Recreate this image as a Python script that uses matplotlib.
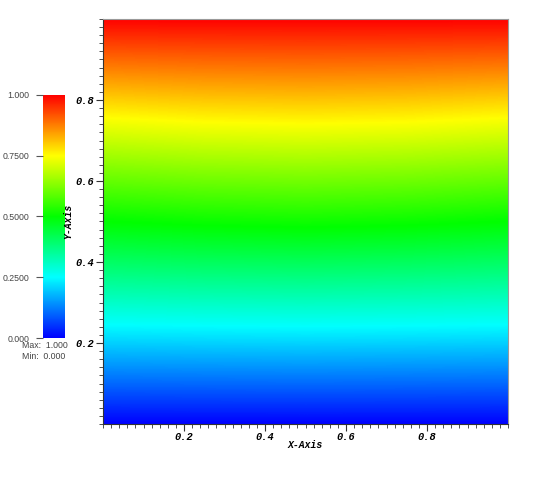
import numpy as np
import matplotlib
matplotlib.use("Agg")
import matplotlib.pyplot as plt
from matplotlib.colors import LinearSegmentedColormap, Normalize
from matplotlib.cm import ScalarMappable
from matplotlib.ticker import MultipleLocator

# ---- data ----
x_samples = [0.0, 0.25, 0.5, 0.75, 1.0]
y_samples = [0.0, 0.25, 0.5, 0.75, 1.0]
field_y0 = [0.000, 0.000, 0.000, 0.000, 0.000]
field_y025 = [0.255, 0.258, 0.260, 0.258, 0.255]
field_y05 = [0.500, 0.510, 0.515, 0.510, 0.500]
field_y075 = [0.744, 0.755, 0.759, 0.755, 0.744]
field_y1 = [1.000, 1.000, 1.000, 1.000, 1.000]
x_ticks = [0.2, 0.4, 0.6, 0.8]
y_ticks = [0.2, 0.4, 0.6, 0.8]
cbar_ticks = [0.0, 0.25, 0.5, 0.75, 1.0]
cbar_labels = ["0.000", "0.2500", "0.5000", "0.7500", "1.000"]
vmin, vmax = 0.0, 1.0

field = np.array([field_y0, field_y025, field_y05, field_y075, field_y1])

cmap = LinearSegmentedColormap.from_list(
    "visit_hot",
    [(0.0, (0, 0, 1)), (0.25, (0, 1, 1)), (0.5, (0, 1, 0)),
     (0.75, (1, 1, 0)), (1.0, (1, 0, 0))], N=512)
norm = Normalize(vmin, vmax)

W, H = 538, 494
fig = plt.figure(figsize=(W / 100, H / 100), dpi=100)

def px(l, t, r, b):
    return [l / W, 1 - b / H, (r - l) / W, (b - t) / H]

ax = fig.add_axes(px(103, 19, 508, 424))
dx = (x_samples[1] - x_samples[0]) / 2
dy = (y_samples[1] - y_samples[0]) / 2
ax.imshow(field, origin="lower", cmap=cmap, norm=norm,
          extent=[x_samples[0] - dx, x_samples[-1] + dx,
                  y_samples[0] - dy, y_samples[-1] + dy],
          interpolation="bilinear", interpolation_stage="data", aspect="auto")
ax.set_xlim(0, 1)
ax.set_ylim(0, 1)

tickfont = dict(family="Liberation Mono", weight="bold", style="italic", size=7.5)
ax.set_xticks(x_ticks)
ax.set_yticks(y_ticks)
ax.set_xticklabels([f"{v:.1f}" for v in x_ticks], **tickfont)
ax.set_yticklabels([f"{v:.1f}" for v in y_ticks], **tickfont)
ax.xaxis.set_minor_locator(MultipleLocator(0.02))
ax.yaxis.set_minor_locator(MultipleLocator(0.02))
ax.tick_params(which="major", direction="out", length=5, width=0.8,
               color="#333333")
ax.tick_params(axis="x", which="major", pad=1)
ax.tick_params(axis="y", which="major", pad=1.5)
ax.tick_params(which="minor", direction="out", length=3, width=0.6,
               color="#333333")
for s in ("left", "bottom"):
    ax.spines[s].set_color("#333333")
    ax.spines[s].set_linewidth(0.8)
for s in ("top", "right"):
    ax.spines[s].set_color("#999999")
    ax.spines[s].set_linewidth(0.8)

labelfont = dict(family="Liberation Mono", weight="bold", style="italic", size=7)
fig.text(305.5 / W, 1 - 445 / H, "X-Axis", ha="center", va="center", **labelfont)
fig.text(68 / W, 1 - 221 / H, "Y-Axis", ha="center", va="center",
         rotation=90, **labelfont)

# ---- colorbar ----
cax = fig.add_axes(px(43, 95, 64.5, 338))
sm = ScalarMappable(norm=norm, cmap=cmap)
cb = fig.colorbar(sm, cax=cax)
cb.outline.set_visible(False)
cax.yaxis.set_ticks_position("left")
cax.set_yticks(cbar_ticks)
cax.set_yticklabels(cbar_labels, family="Liberation Sans", size=6.3, color="#444444")
cax.tick_params(direction="out", length=5, width=0.8, color="#555555", pad=5)
cax.minorticks_off()

fig.text(22 / W, 1 - 346 / H, f"Max:  {vmax:.3f}", ha="left", va="center",
         family="Liberation Sans", size=6.3, color="#444444")
fig.text(22 / W, 1 - 356 / H, f"Min:  {vmin:.3f}", ha="left", va="center",
         family="Liberation Sans", size=6.3, color="#444444")

fig.savefig("out.png", dpi=100)
